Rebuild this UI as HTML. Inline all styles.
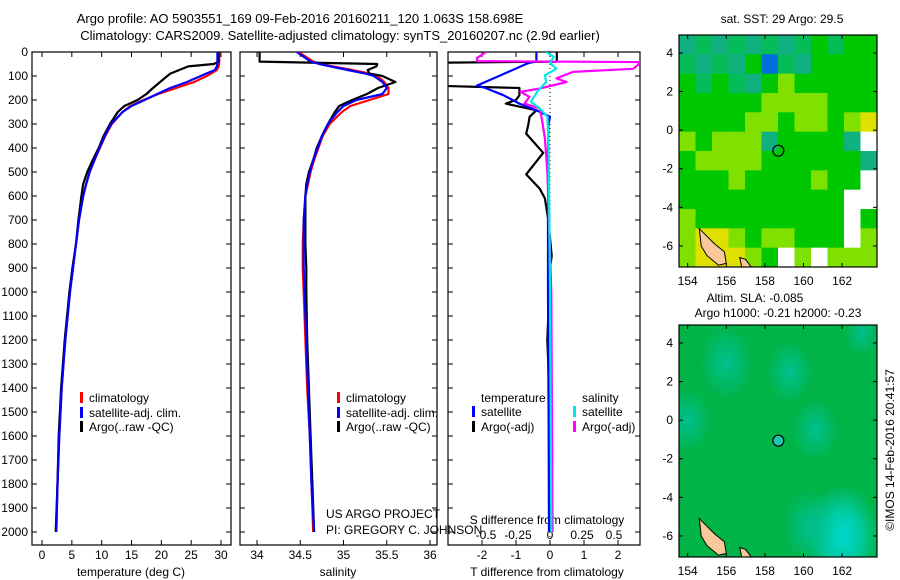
<!DOCTYPE html>
<html><head><meta charset="utf-8">
<style>
html,body{margin:0;padding:0;background:#fff;}
svg{display:block;font-family:"Liberation Sans",sans-serif;}
text{fill:#000;}
</style></head>
<body>
<svg id="fig" width="900" height="580" viewBox="0 0 900 580">
<defs>
<clipPath id="c1"><rect x="32" y="52" width="199" height="493"/></clipPath>
<clipPath id="c2"><rect x="240" y="52" width="197" height="493"/></clipPath>
<clipPath id="c3"><rect x="448" y="52" width="192" height="493"/></clipPath>
<clipPath id="cm1"><rect x="679" y="35" width="198" height="232"/></clipPath>
<clipPath id="cm2"><rect x="679" y="325" width="198" height="232"/></clipPath>
<radialGradient id="tb"><stop offset="0" stop-color="#00c090"/><stop offset="1" stop-color="#00c090" stop-opacity="0"/></radialGradient>
<radialGradient id="cb"><stop offset="0" stop-color="#00d8d0"/><stop offset="0.5" stop-color="#00d0b8" stop-opacity="0.8"/><stop offset="1" stop-color="#00c8a0" stop-opacity="0"/></radialGradient>
</defs>
<text x="300" y="23" font-size="13" text-anchor="middle">Argo profile: AO 5903551_169 09-Feb-2016 20160211_120 1.063S 158.698E</text>
<text x="340" y="40" font-size="13" text-anchor="middle">Climatology: CARS2009. Satellite-adjusted climatology: synTS_20160207.nc (2.9d earlier)</text>
<text x="782" y="23" font-size="12" text-anchor="middle">sat. SST: 29 Argo: 29.5</text>
<text x="755" y="302" font-size="12" text-anchor="middle">Altim. SLA: -0.085</text>
<text x="778" y="317" font-size="12" text-anchor="middle">Argo h1000: -0.21 h2000: -0.23</text>
<text x="0" y="0" font-size="12" text-anchor="middle" transform="translate(894,450) rotate(-90)">©IMOS 14-Feb-2016 20:41:57</text>
<text x="326" y="518" font-size="12">US ARGO PROJECT</text>
<text x="326" y="534" font-size="12">PI: GREGORY C. JOHNSON</text>
<g id="root"></g>
</svg>
<script>
// ---- profile data ----
const depthT = [0,40,50,60,75,90,100,125,150,175,200,225,250,300,350,400,450,500,550,600,700,800,900,1000,1200,1400,1600,1800,2000];
const tempClim = [29.7,29.7,29.7,29.6,29.3,28.3,27.6,25.5,22.5,19.5,17,14.8,13.5,11.7,10.6,9.7,8.8,8.0,7.4,6.9,6.2,5.7,5.2,4.7,3.9,3.3,2.9,2.6,2.4];
const tempSat = [29.4,29.4,29.4,29.3,29.0,27.5,26.6,24.3,21.5,19.3,17.2,15.0,13.5,11.6,10.5,9.6,8.8,8.0,7.4,6.9,6.2,5.7,5.2,4.7,3.9,3.3,2.9,2.6,2.4];
const tempArgo = [29.6,29.6,28.8,24.5,23,21.5,21,19.8,18.6,17.5,16.0,13.8,12.7,11.4,10.3,9.5,8.5,7.6,6.9,6.6,6.1,5.7,5.1,4.6,3.8,3.2,2.8,2.6,2.3];
const salClim = [34.48,34.65,34.75,34.88,35.1,35.3,35.39,35.47,35.52,35.52,35.3,35.08,34.98,34.84,34.76,34.71,34.66,34.62,34.59,34.56,34.54,34.53,34.53,34.54,34.56,34.58,34.61,34.63,34.65];
const salSat = [34.46,34.62,34.72,34.85,35.05,35.25,35.35,35.45,35.5,35.45,35.15,35.0,34.93,34.82,34.75,34.7,34.65,34.61,34.58,34.56,34.54,34.54,34.54,34.55,34.57,34.59,34.61,34.63,34.66];
const salArgo = [34.03,34.03,35.39,35.38,35.28,35.3,35.45,35.6,35.4,35.27,35.1,34.95,34.9,34.82,34.75,34.69,34.65,34.60,34.57,34.56,34.56,34.56,34.57,34.57,34.58,34.60,34.62,34.64,34.66];
const tDiffDepth = [0,40,45,50,100,140,150,180,200,215,243,270,305,340,420,510,570,610,700,850,900,1000,1200,1300,1500,2000];
const tDiffArgo = [0.2,0.2,-3.5,-3.5,-3.5,-3.5,-0.9,-0.9,-1.0,-1.3,-0.4,-0.6,-0.64,-0.7,-0.2,-0.7,-0.3,-0.15,-0.05,0.05,0.0,-0.02,-0.08,-0.05,0,0];
const tDiffSat = [-0.4,-0.4,-0.6,-0.7,-1.5,-2.15,-1.9,-1.37,-1.1,-0.9,-0.4,0,-0.05,-0.05,-0.05,-0.05,-0.05,-0.05,-0.06,-0.06,-0.06,-0.06,-0.05,-0.05,-0.04,-0.03];
const sDiffArgoDepth = [0,25,38,42,48,70,83,110,125,152,166,187,215,235,290,360,500,1000,2000];
const sDiffArgo = [-0.5,-0.57,-0.57,0.7,0.7,0.65,0.18,0.05,0.13,-0.08,-0.23,-0.16,-0.2,-0.08,-0.06,-0.04,-0.02,0.01,0.02];
const sDiffSatDepth = [0,20,45,70,97,125,166,208,235,270,400,1000,2000];
const sDiffSat = [-0.03,0.03,0.0,0.05,-0.04,-0.03,-0.1,-0.15,-0.08,-0.02,-0.01,0,0.01];
const depthTicks = [0,100,200,300,400,500,600,700,800,900,1000,1100,1200,1300,1400,1500,1600,1700,1800,1900,2000];
const tempTicks = [0,5,10,15,20,25,30];
const salTicks = [34,34.5,35,35.5,36];
const tdTicks = [-2,-1,0,1,2];
const sdTicks = [-0.5,-0.25,0,0.25,0.5];
const sdTickLabels = ["-0.5","-0.25","0","0.25","0.5"];
// ---- map data (coarse cells, rows from north to south) ----
const sstRows = [
"tmtmtmtmgmgg",
"mtmtgbmtgggg",
"gmgmtglggggg",
"gggggllllggg",
"ggggllgllgly",
"lgllltggggtw",
"gllllggggggt",
"ggglgggglggw",
"ggggggggggww",
"lgggggggggwg",
"lyylgllgggwl",
"lyyylgwlwlll"];
const sstColors = {t:"#10b080",m:"#06bc58",g:"#00c800",l:"#80e000",y:"#e0e000",w:"#ffffff",b:"#0070e0"};
const lonTicks = [154,156,158,160,162];
const latTicks = [4,2,0,-2,-4,-6];
const floatLon = 158.698, floatLat = -1.063;
const slaBlobs = [[156,3,1.3],[159.3,2.5,1.1],[154,0,1.1],[160.6,-0.5,1.1],[162,-6,1.8],[160.3,-5.5,1.3],[163,4.5,0.8]];

const NS="http://www.w3.org/2000/svg";
const root=document.getElementById('root');
function mk(tag,attrs,parent){const e=document.createElementNS(NS,tag);for(const k in attrs)e.setAttribute(k,attrs[k]);(parent||root).appendChild(e);return e;}
const y0=52, pxm=0.24;
const yD=d=>y0+d*pxm;
const xT=v=>42+v*5.967;
const xS=v=>257+(v-34)*86.5;
const xTD=v=>550+v*34;
const xSD=v=>550+v*128;

function frame(x,w,name){
  const r=mk('rect',{x:x,y:52,width:w,height:493,fill:'none',stroke:'#000','stroke-width':1.2});
  
  
  depthTicks.forEach(d=>{
    mk('line',{x1:x,x2:x+5,y1:yD(d),y2:yD(d),stroke:'#000'});
    mk('line',{x1:x+w-5,x2:x+w,y1:yD(d),y2:yD(d),stroke:'#000'});
  });
}
function xticks(vals,labels,fx,x,w,ly){
  vals.forEach((v,i)=>{
    const px=fx(v);
    mk('line',{x1:px,x2:px,y1:545,y2:540,stroke:'#000'});
    mk('line',{x1:px,x2:px,y1:52,y2:57,stroke:'#000'});
    const t=mk('text',{x:px,y:ly,'font-size':12,'text-anchor':'middle'});
    t.textContent=labels[i];
    
    
  });
}
function line(ds,vs,fx,color,clip,name,w){
  const pts=ds.map((d,i)=>fx(vs[i]).toFixed(1)+','+yD(d).toFixed(1)).join(' ');
  const p=mk('polyline',{points:pts,fill:'none',stroke:color,'stroke-width':w||2.2,'clip-path':'url(#'+clip+')','stroke-linejoin':'round'});
  
  
}
function legend(x,y,color,label){
  mk('rect',{x:x,y:y-10,width:3,height:11,fill:color});
  const t=mk('text',{x:x+9,y:y,'font-size':12});
  t.textContent=label;
  
  
}
depthTicks.forEach(d=>{
  const t=mk('text',{x:28,y:yD(d)+4,'font-size':12,'text-anchor':'end'});
  t.textContent=d;
  
  
});
// panel 1
frame(32,199,'temperature-panel');
xticks(tempTicks,tempTicks.map(String),xT,32,199,559);
line(depthT,tempClim,xT,'#ff0000','c1','temp-climatology-line');
line(depthT,tempArgo,xT,'#000000','c1','temp-argo-line');
line(depthT,tempSat,xT,'#0000ff','c1','temp-satellite-line');
let at=mk('text',{x:131,y:576,'font-size':12,'text-anchor':'middle'});at.textContent='temperature (deg C)';


legend(80,402,'#ff0000','climatology');legend(80,417,'#0000ff','satellite-adj. clim.');legend(80,431,'#000000','Argo(..raw -QC)');
// panel 2
frame(240,197,'salinity-panel');
xticks(salTicks,["34","34.5","35","35.5","36"],xS,240,197,559);
line(depthT,salClim,xS,'#ff0000','c2','sal-climatology-line');
line(depthT,salArgo,xS,'#000000','c2','sal-argo-line');
line(depthT,salSat,xS,'#0000ff','c2','sal-satellite-line');
at=mk('text',{x:338,y:576,'font-size':12,'text-anchor':'middle'});at.textContent='salinity';


legend(337,402,'#ff0000','climatology');legend(337,417,'#0000ff','satellite-adj. clim.');legend(337,431,'#000000','Argo(..raw -QC)');
// panel 3
frame(448,192,'difference-panel');
xticks(tdTicks,tdTicks.map(String),xTD,448,192,559);
sdTicks.forEach((v,i)=>{const t=mk('text',{x:xSD(v),y:539,'font-size':12,'text-anchor':'middle'});t.textContent=sdTickLabels[i];

});
const sl=mk('text',{x:547,y:524,'font-size':12,'text-anchor':'middle'});sl.textContent='S difference from climatology';


mk('line',{x1:550,x2:550,y1:52,y2:545,stroke:'#000','stroke-dasharray':'1,3'});
line(tDiffDepth,tDiffArgo,xTD,'#000000','c3','tdiff-argo-line');
line(tDiffDepth,tDiffSat,xTD,'#0000ff','c3','tdiff-satellite-line');
line(sDiffArgoDepth,sDiffArgo,xSD,'#ff00ff','c3','sdiff-argo-line');
line(sDiffSatDepth,sDiffSat,xSD,'#00e8e8','c3','sdiff-satellite-line');
at=mk('text',{x:547,y:576,'font-size':12,'text-anchor':'middle'});at.textContent='T difference from climatology';


let lt=mk('text',{x:481,y:402,'font-size':12});lt.textContent='temperature';


lt=mk('text',{x:582,y:402,'font-size':12});lt.textContent='salinity';


legend(472,416,'#0000ff','satellite');legend(472,431,'#000000','Argo(-adj)');
legend(573,416,'#00e8e8','satellite');legend(573,431,'#ff00ff','Argo(-adj)');

// ---- maps ----
const mx=lon=>679+(lon-153.55)*19.3;
function my(top){return lat=>top+(4.93-lat)*19.3;}
function land(g,fy){
  const isl1=[[154.6,-5.1],[155.0,-5.5],[155.4,-5.9],[155.9,-6.3],[156.0,-6.9],[155.6,-7.0],[155.0,-6.5],[154.7,-6.0]];
  const isl2=[[156.7,-6.6],[157.0,-6.7],[157.3,-7.1],[156.8,-7.1]];
  [isl1,isl2].forEach(is=>{
    const p=mk('polygon',{points:is.map(q=>mx(q[0])+','+fy(q[1])).join(' '),fill:'#f8c898',stroke:'#000','stroke-width':1},g);
    
    
  });
}
function mapAxes(top,name){
  const fy=my(top);
  const r=mk('rect',{x:679,y:top,width:198,height:232,fill:'none',stroke:'#000','stroke-width':1.2});
  
  
  lonTicks.forEach(v=>{
    mk('line',{x1:mx(v),x2:mx(v),y1:top,y2:top+4,stroke:'#000'});
    mk('line',{x1:mx(v),x2:mx(v),y1:top+232,y2:top+228,stroke:'#000'});
    const t=mk('text',{x:mx(v),y:top+250,'font-size':12,'text-anchor':'middle'});t.textContent=v;
    
    
  });
  latTicks.forEach(v=>{
    mk('line',{x1:679,x2:683,y1:fy(v),y2:fy(v),stroke:'#000'});
    mk('line',{x1:877,x2:873,y1:fy(v),y2:fy(v),stroke:'#000'});
    const t=mk('text',{x:673,y:fy(v)+4,'font-size':12,'text-anchor':'end'});t.textContent=v;
    
    
  });
}
const g1=mk('g',{'clip-path':'url(#cm1)'});


const nr=sstRows.length, nc=sstRows[0].length, cw=198/nc, ch=232/nr;
sstRows.forEach((row,ri)=>{[...row].forEach((c,ci)=>{
  const cell=mk('rect',{x:679+ci*cw,y:35+ri*ch,width:cw+0.5,height:ch+0.5,fill:sstColors[c]},g1);
  
  
});});
land(g1,my(35));
const c1=mk('circle',{cx:mx(floatLon),cy:my(35)(floatLat),r:5.5,fill:'none',stroke:'#000','stroke-width':1.2});


mapAxes(35,'sst-map-frame');
const g2=mk('g',{'clip-path':'url(#cm2)'});


mk('rect',{x:679,y:325,width:198,height:232,fill:'#00b448'},g2);
slaBlobs.forEach((b,i)=>{
  const e=mk('ellipse',{cx:mx(b[0]),cy:my(325)(b[1]),rx:b[2]*19.3*1.1,ry:b[2]*19.3*1.5,fill:i==4?'url(#cb)':'url(#tb)'},g2);
  
  
});
land(g2,my(325));
const c2=mk('circle',{cx:mx(floatLon),cy:my(325)(floatLat),r:5.5,fill:'#20c8b0',stroke:'#000','stroke-width':1.2});


mapAxes(325,'sla-map-frame');
</script>
</body></html>
